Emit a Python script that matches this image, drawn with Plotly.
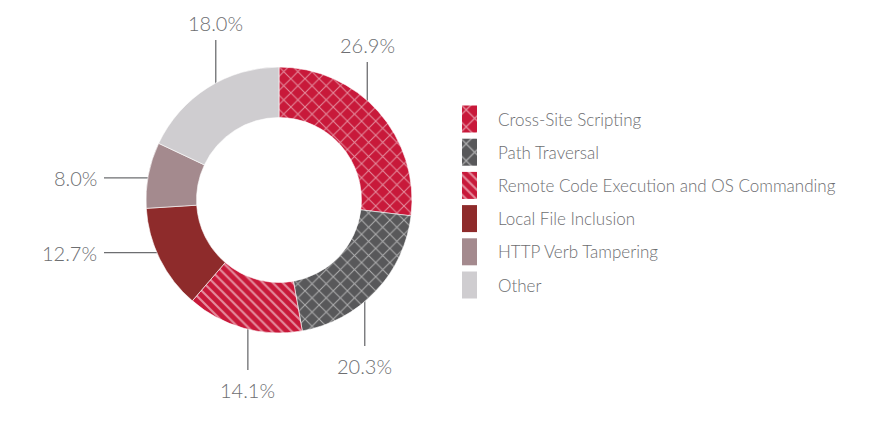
import math
import plotly.graph_objects as go

# ---- data ----
categories = ["Cross-Site Scripting", "Path Traversal", "Remote Code Execution and OS Commanding",
              "Local File Inclusion", "HTTP Verb Tampering", "Other"]
values = [26.9, 20.3, 14.1, 12.7, 8.0, 18.0]
labels = ["26.9%", "20.3%", "14.1%", "12.7%", "8.0%", "18.0%"]

# ---- styles ----
colors = ["#c8193a", "#58585a", "#c8193a", "#8e2b2b", "#a48a8e", "#cfcdd0"]
shapes_pat = ["x", "x", "\\", "", "", ""]
pat_sizes = [10, 10, 7, 10, 10, 10]
pat_solid = [0.2, 0.2, 0.3, 0.2, 0.2, 0.2]
W, H = 887, 428
OFF = 8  # page body margin
CX, CY, R_OUT, HOLE = 279, 200, 133, 0.62
R_DOT = 118
FONT = "Lato"
TXT = "#6d6e71"

# leader-line layout: direction and end coordinate (pixels)
leaders = [("up", 62), ("down", 346), ("down", 370), ("left", 104), ("left", 104), ("up", 40)]

fig = go.Figure()
fig.add_trace(go.Pie(
    values=values, labels=categories, sort=False, direction="clockwise", rotation=0,
    hole=HOLE, textinfo="none", hoverinfo="label+percent", showlegend=False,
    marker=dict(colors=colors, line=dict(color="white", width=0.6),
                pattern=dict(shape=shapes_pat, fgcolor="white", fillmode="overlay",
                             size=pat_sizes, solidity=pat_solid)),
    domain=dict(x=[(CX - OFF - R_OUT) / W, (CX - OFF + R_OUT) / W],
                y=[(H - (CY - OFF) - R_OUT) / H, (H - (CY - OFF) + R_OUT) / H]),
))

# leader lines + dots computed from the values
total = sum(values)
cum = 0.0
annotations = []
for v, lab, (d, end) in zip(values, labels, leaders):
    mid = (cum + v / 2) / total * 2 * math.pi
    cum += v
    dx = CX + R_DOT * math.sin(mid)
    dy = CY - R_DOT * math.cos(mid)
    if d in ("up", "down"):
        ex, ey = dx, end
    else:
        ex, ey = end, dy
    fig.add_trace(go.Scatter(x=[dx, ex], y=[dy, ey], mode="lines",
                             line=dict(color="#6d6e71", width=1.3),
                             hoverinfo="skip", showlegend=False))
    fig.add_trace(go.Scatter(x=[dx], y=[dy], mode="markers",
                             marker=dict(color="#333335", size=6),
                             hoverinfo="skip", showlegend=False))
    if d == "up":
        annotations.append(dict(x=ex, y=ey - 3, text=lab, xanchor="center", yanchor="bottom"))
    elif d == "down":
        annotations.append(dict(x=ex, y=ey + 6, text=lab, xanchor="center", yanchor="top"))
    else:
        annotations.append(dict(x=ex - 5, y=ey, text=lab, xanchor="right", yanchor="middle"))

for a in annotations:
    a.update(xref="x", yref="y", showarrow=False,
             font=dict(family=FONT, size=20, color=TXT, weight=300))

# custom legend (tall swatches)
LX, LY0, LSTEP, SW, SH = 462, 119, 33.2, 15, 27
for i, (cat, col, pat) in enumerate(zip(categories, colors, shapes_pat)):
    yc = LY0 + i * LSTEP
    xs = [LX, LX + SW, LX + SW, LX, LX]
    ys = [yc - SH / 2, yc - SH / 2, yc + SH / 2, yc + SH / 2, yc - SH / 2]
    fp = dict(shape=pat, fgcolor="white", bgcolor=col, size=12 if pat == "x" else 7,
              solidity=0.2 if pat == "x" else 0.3) if pat else None
    fig.add_trace(go.Scatter(x=xs, y=ys, mode="lines", fill="toself", fillcolor=col,
                             fillpattern=fp, line=dict(width=0),
                             hoverinfo="skip", showlegend=False))
    annotations.append(dict(x=LX + 34, y=yc, text=cat, xref="x", yref="y", showarrow=False,
                            xanchor="left", yanchor="middle",
                            font=dict(family=FONT, size=17, color=TXT, weight=300)))

fig.update_layout(
    width=W, height=H, margin=dict(l=0, r=0, t=0, b=0),
    paper_bgcolor="white", plot_bgcolor="rgba(0,0,0,0)",
    xaxis=dict(range=[OFF, W + OFF], visible=False, domain=[0, 1], fixedrange=True),
    yaxis=dict(range=[H + OFF, OFF], visible=False, domain=[0, 1], fixedrange=True),
    annotations=annotations, showlegend=False,
)

fig.write_html("out.html")
